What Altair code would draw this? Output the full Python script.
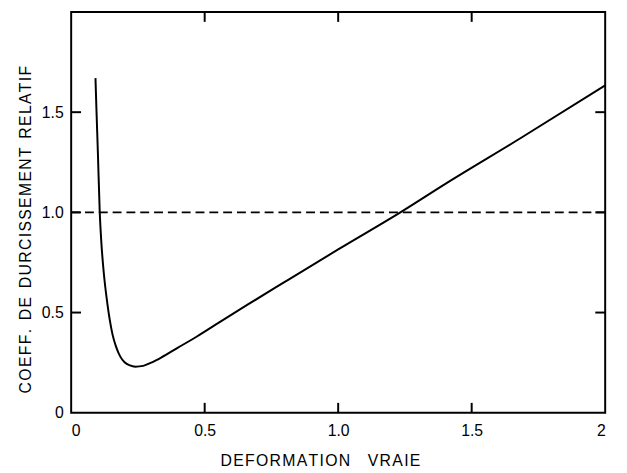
import altair as alt
import pandas as pd

# Curve
strain = [0.091, 0.095, 0.100, 0.107, 0.113, 0.122, 0.135, 0.145, 0.155, 0.168,
          0.184, 0.200, 0.220, 0.240, 0.270, 0.300, 0.338, 0.400, 0.468, 0.550,
          0.659, 0.800, 1.000, 1.233, 1.400, 1.684, 2.000]
coeff = [1.67, 1.50, 1.30, 1.00, 0.85, 0.70, 0.55, 0.46, 0.39, 0.33,
         0.28, 0.252, 0.236, 0.230, 0.234, 0.250, 0.276, 0.325, 0.378, 0.447,
         0.538, 0.653, 0.815, 1.000, 1.141, 1.371, 1.634]

ref_x = [0.0, 2.0]
ref_y = [1.0, 1.0]

x_ticks = [0.5, 1.0, 1.5]
y_ticks = [0.5, 1.0, 1.5]
x_labels = [0, 0.5, 1.0, 1.5, 2]
y_labels = [0, 0.5, 1.0, 1.5]

W, H = 541, 406
FONT = "Liberation Sans"
HS = "\u200a"   # hair space for letter spacing
NB = "\u00a0"


def spaced(words, gap):
    return (NB * gap).join(HS.join(w) for w in words)


x_title = spaced(["DEFORMATION", "VRAIE"], 4)
y_title = spaced(["COEFF.", "DE", "DURCISSEMENT", "RELATIF"], 2)

curve_df = pd.DataFrame({"x": strain, "y": coeff})
ref_df = pd.DataFrame({"x": ref_x, "y": ref_y})
xt_df = pd.DataFrame({"x": x_ticks})
yt_df = pd.DataFrame({"y": y_ticks})

xscale = alt.Scale(domain=[0, 2], nice=False, zero=False)
yscale = alt.Scale(domain=[0, 2], nice=False, zero=False)

xaxis = alt.Axis(values=x_labels, labelExpr="datum.value == 0 ? '0' : datum.value == 2 ? '2' : format(datum.value, '.1f')",
                 ticks=False, domain=False, grid=False, labelPadding=10,
                 title=x_title, titlePadding=14, titleX=252)
yaxis = alt.Axis(values=y_labels, labelExpr="datum.value == 0 ? '0' : format(datum.value, '.1f')",
                 ticks=False, domain=False, grid=False, labelPadding=8,
                 title=y_title, titlePadding=8, titleY=220)

curve = alt.Chart(curve_df).mark_line(color="black", strokeWidth=2, interpolate="monotone").encode(
    x=alt.X("x:Q", scale=xscale, axis=xaxis),
    y=alt.Y("y:Q", scale=yscale, axis=yaxis),
)

ref = alt.Chart(ref_df).mark_line(color="black", strokeWidth=2, strokeDash=[9, 5]).encode(
    x=alt.X("x:Q", scale=xscale),
    y=alt.Y("y:Q", scale=yscale),
)

bottom_ticks = alt.Chart(xt_df).mark_rule(color="black", strokeWidth=2).encode(
    x=alt.X("x:Q", scale=xscale), y=alt.value(H), y2=alt.value(H - 10))
top_ticks = alt.Chart(xt_df).mark_rule(color="black", strokeWidth=2).encode(
    x=alt.X("x:Q", scale=xscale), y=alt.value(0), y2=alt.value(10))
left_ticks = alt.Chart(yt_df).mark_rule(color="black", strokeWidth=2).encode(
    y=alt.Y("y:Q", scale=yscale), x=alt.value(0), x2=alt.value(10))
right_ticks = alt.Chart(yt_df).mark_rule(color="black", strokeWidth=2).encode(
    y=alt.Y("y:Q", scale=yscale), x=alt.value(W), x2=alt.value(W - 10))

chart = alt.layer(ref, curve, bottom_ticks, top_ticks, left_ticks, right_ticks).properties(
    width=W, height=H,
    background="white",
    autosize=alt.AutoSizeParams(type="none"),
    padding={"left": 64, "top": 1, "right": 14, "bottom": 58},
).configure_view(
    stroke="black", strokeWidth=2
).configure_axis(
    labelFont=FONT, titleFont=FONT, labelFontSize=16, titleFontSize=16,
    labelColor="black", titleColor="black", titleFontWeight="normal",
)

chart.save("out.html", embed_options={"renderer": "svg", "actions": False})
